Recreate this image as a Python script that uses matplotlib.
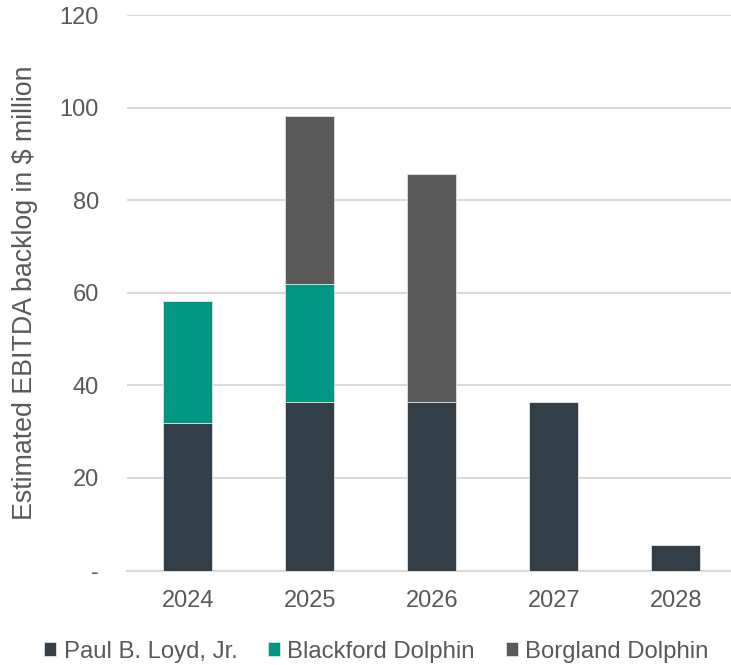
import matplotlib
matplotlib.use("Agg")
import matplotlib.pyplot as plt
import numpy as np

years = ["2024", "2025", "2026", "2027", "2028"]
paul = [31.8, 36.4, 36.4, 36.4, 5.5]
blackford = [26.5, 25.5, 0, 0, 0]
borgland = [0, 36.3, 49.3, 0, 0]
series_names = ["Paul B. Loyd, Jr.", "Blackford Dolphin", "Borgland Dolphin"]
colors = ["#333F48", "#009681", "#595959"]
yticks = [0, 20, 40, 60, 80, 100, 120]
ytick_labels = ["-", "20", "40", "60", "80", "100", "120"]

plt.rcParams['font.family'] = ['Liberation Sans', 'DejaVu Sans']
text_color = "#595959"

fig = plt.figure(figsize=(7.31, 6.65), dpi=100)
ax = fig.add_axes([0.1733, 0.1421, 0.8267, 0.8353])

x = np.arange(len(years))
w = 0.4
bottoms = np.zeros(len(years))
handles = []
for vals, name, c in zip([paul, blackford, borgland], series_names, colors):
    vals = np.array(vals)
    b = ax.bar(x, vals, w, bottom=bottoms, color=c, edgecolor="#e0e0e0",
               linewidth=0.6, label=name, zorder=3)
    handles.append(b)
    bottoms = bottoms + vals

ax.set_ylim(0, 120)
ax.set_xlim(-0.5, 4.453)
ax.set_yticks(yticks)
ax.set_yticklabels(ytick_labels)
ax.set_xticks(x)
ax.set_xticklabels(years)
ax.yaxis.grid(True, color="#d9d9d9", linewidth=1.5, zorder=0)
ax.set_axisbelow(True)
for s in ["top", "right", "left"]:
    ax.spines[s].set_visible(False)
ax.spines["bottom"].set_color("#d9d9d9")
ax.spines["bottom"].set_linewidth(1.5)
ax.tick_params(axis="both", length=0, labelsize=17, colors=text_color)
ax.tick_params(axis="y", pad=20)
ax.tick_params(axis="x", pad=14)
ax.set_ylabel("Estimated EBITDA backlog in $ million", fontsize=19.3, color=text_color)
ax.yaxis.set_label_coords(-0.146, 0.5)

fig.legend(handles=handles, labels=series_names, loc="center",
           bbox_to_anchor=(0.515, 0.02), ncol=3, frameon=False, fontsize=17.2,
           handlelength=0.5, handleheight=0.5, handletextpad=0.3, columnspacing=1.3,
           labelcolor=text_color, borderpad=0)

fig.savefig("out.png", dpi=100)
